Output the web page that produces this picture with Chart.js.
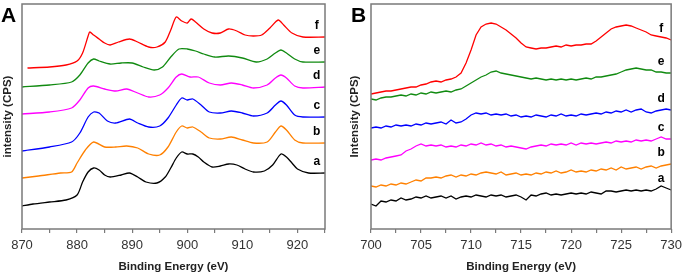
<!DOCTYPE html>
<html>
<head>
<meta charset="utf-8">
<script src="https://cdn.jsdelivr.net/npm/chart.js@4.4.0/dist/chart.umd.min.js"></script>
<style>
  html, body { margin: 0; padding: 0; background: #fff; }
  .panel { position: absolute; top: 0; height: 274px; }
  #panelA { left: 0; width: 342px; }
  #panelB { left: 342px; width: 345px; }
</style>
</head>
<body>
<div class="panel" id="panelA"><canvas id="chartA"></canvas></div>
<div class="panel" id="panelB"><canvas id="chartB"></canvas></div>
<script>
// Panel A: 870-925 eV, [energy, intensity]
const specA_a = [[870,23],[872,25],[875,27],[878,29],[880,34],[881,47],[882,57],[883,61],[884,59],[885,54],[886,52],[888,54],[889.5,56],[891,52],[892.5,47],[894.5,46],[896,52],[897,61],[898,71],[899,77],[900,75],[901,75],[902,72],[903,67],[904.5,62],[906,63],[907.5,65],[909,64],[910.5,60],[912,57],[914,58],[915.5,64],[917,75],[918,72],[919,66],[920,60],[922,56],[925,56]];
const specA_b = [[870,51],[873,53],[877,56],[879,57],[880,66],[881.5,79],[883,87],[885,82],[887,82],[889,83],[891,81],[893,75],[895,74],[896.5,82],[898,97],[899,103],[900,101],[901,102],[902.5,97],[904,91],[906,90],[908,92],[910,89],[912,86],[914.5,87],[916,97],[917,103],[918,99],[919.5,89],[921,86],[925,86]];
const specA_c = [[870,78],[875,82],[879,87],[880.5,96],[882,112],[883,117],[884,116],[885.5,108],[887,106],[889.5,110],[891,106],[893,102],[895,103],[896.5,111],[898,124],[899,131],[900,129],[901,130],[902.5,124],[904,117],[906,116],[908,118],[910,116],[912,113],[914.5,116],[916,124],[917,128],[918,124],[919.5,114],[921,112],[925,112]];
const specA_d = [[870,115],[875,117],[879,121],[880.5,129],[882,141],[883,143],[885,140],[887,138],[889,140],[891,136],[893,132],[895,134],[896.5,141],[898,152],[899,155],[900.5,152],[902,152],[904,146],[906,144],[908,146],[910,144],[912,141],[914.5,144],[916,151],[917,154],[918,151],[919.5,143],[921,141],[925,142]];
const specA_e = [[870,142],[875,144],[879,147],[880.5,154],[882,166],[883,170],[884,168],[886,165],[888,166],[890,166],[892,162],[894,159],[895.5,162],[897,172],[898.5,180],[900,180],[901.5,178],[903,175],[905,172],[907.5,173],[910,171],[912.5,167],[914.5,170],[916,176],[917,179],[918,176],[919.5,170],[921,167],[925,167]];
const specA_f = [[871,161],[875,162],[878,164],[880,168],[881,176],[882,193],[882.3,197],[883,194],[884,190],[885,186],[886,184],[887.5,187],[889.5,190],[891,187],[893,182],[894.5,182],[896,187],[897,199],[898,212],[899,208],[900,206],[900.7,210],[901.5,207],[903,200],[904.5,196],[906,196],[907.5,200],[909,198],[910.5,194],[912,193],[913.5,194],[915,201],[916.5,209],[917.5,204],[919,196],[921,192],[925,192]];

// Panel B: 700-730 eV, one value every 0.5 eV
const energyB = [700,700.5,701,701.5,702,702.5,703,703.5,704,704.5,705,705.5,706,706.5,707,707.5,708,708.5,709,709.5,710,710.5,711,711.5,712,712.5,713,713.5,714,714.5,715,715.5,716,716.5,717,717.5,718,718.5,719,719.5,720,720.5,721,721.5,722,722.5,723,723.5,724,724.5,725,725.5,726,726.5,727,727.5,728,728.5,729,729.5,730];
const specB_a = [25,23,28,27,29,28,31,29,30,32,31,33,31,32,33,31,33,30,32,33,32,34,33,32,34,33,34,32,33,34,32,29,34,33,35,36,34,35,34,35,36,35,36,35,37,36,35,38,38,37,38,39,38,39,38,39,38,40,43,41,39];
const specB_b = [43,42,44,43,45,44,46,45,47,49,48,51,51,52,51,53,54,52,54,53,55,54,56,57,56,55,57,54,55,56,54,55,54,56,55,57,56,58,56,57,59,57,58,57,59,58,60,59,61,59,62,60,61,62,60,62,63,61,63,64,65];
const specB_c = [69,70,69,71,72,73,74,78,80,83,85,83,84,83,84,82,83,82,84,83,85,84,86,84,85,83,84,82,83,82,81,80,82,83,84,83,85,84,85,84,86,84,86,85,86,85,86,87,86,88,87,88,87,89,88,89,88,90,92,90,90];
const specB_d = [101,102,101,103,102,104,103,104,103,105,104,106,105,106,107,105,109,106,107,110,114,116,115,116,114,115,114,115,113,114,112,113,112,114,113,112,114,113,115,113,114,113,115,114,115,116,115,117,116,118,117,119,117,119,120,117,116,118,119,120,119];
const specB_e = [130,129,131,132,132,133,134,133,135,134,136,135,137,136,137,138,137,139,140,143,146,149,152,154,157,158,156,155,154,153,152,151,150,151,150,149,150,149,150,149,150,149,150,151,150,152,152,153,154,155,157,159,160,161,160,159,159,157,157,156,156];
const specB_f = [135,136,137,138,138,139,140,141,142,142,144,145,147,148,147,149,150,152,156,166,179,194,202,205,206,205,202,199,195,191,186,182,181,180,181,181,182,183,182,184,183,184,184,185,185,188,192,196,200,202,203,204,203,201,199,197,194,193,192,191,189];

const sampleNames = ['a', 'b', 'c', 'd', 'e', 'f'];
// in panel A sample c is blue and d magenta, in panel B the other way round
const colorsA = ['#000000', '#ff8000', '#0000ff', '#ff00ff', '#108a10', '#ff0000'];
const colorsB = ['#000000', '#ff8000', '#ff00ff', '#0000ff', '#108a10', '#ff0000'];
const ticksA = [870, 880, 890, 900, 910, 920];
const ticksB = [700, 705, 710, 715, 720, 725, 730];

function pairs(arr) { return arr.map(p => ({ x: p[0], y: p[1] })); }
function zipB(vals) { return vals.map((v, i) => ({ x: energyB[i], y: v })); }

// frame, panel letter and a-f labels
const decorPlugin = {
  id: 'decor',
  afterDraw(chart, args, opts) {
    const ctx = chart.ctx, ca = chart.chartArea;
    ctx.save();
    ctx.strokeStyle = '#7a7a7a';
    ctx.lineWidth = 1.5;
    ctx.strokeRect(ca.left, ca.top, ca.right - ca.left, ca.bottom - ca.top);
    ctx.fillStyle = '#000';
    ctx.font = 'bold 21px "Liberation Sans", Arial, sans-serif';
    ctx.textAlign = 'left';
    ctx.textBaseline = 'alphabetic';
    ctx.fillText(opts.letter, opts.letterX, 22);
    ctx.font = 'bold 12px "Liberation Sans", Arial, sans-serif';
    ctx.textAlign = 'center';
    const xs = chart.scales.x, ys = chart.scales.y;
    chart.data.datasets.forEach(ds => {
      const last = ds.data[ds.data.length - 1];
      ctx.fillText(ds.label, xs.getPixelForValue(opts.labelE), ys.getPixelForValue(last.y) - 8);
    });
    ctx.restore();
  }
};

function makeChart(id, datasets, xmin, xmax, step, labelled, yTitle, leftW, rightPad, titlePad, letter, letterX, labelE) {
  return new Chart(document.getElementById(id), {
    type: 'line',
    data: { datasets: datasets },
    options: {
      responsive: true,
      maintainAspectRatio: false,
      animation: false,
      layout: { padding: { top: 4, right: rightPad, bottom: 0, left: 0 } },
      elements: { point: { radius: 0 }, line: { borderWidth: 1.3, tension: 0.25 } },
      plugins: {
        legend: { display: false },
        tooltip: { enabled: false },
        decor: { letter: letter, letterX: letterX, labelE: labelE }
      },
      scales: {
        x: {
          type: 'linear',
          min: xmin,
          max: xmax,
          afterBuildTicks(s) {
            const t = [];
            for (let v = xmin; v <= xmax + 1e-6; v += step) t.push({ value: v });
            s.ticks = t;
          },
          afterFit(s) { s.height = 45; },
          ticks: {
            autoSkip: false,
            maxRotation: 0,
            padding: 5,
            color: '#333',
            font: { family: '"Liberation Sans", Arial, sans-serif', size: 13 },
            callback: v => labelled.includes(v) ? String(v) : ''
          },
          grid: { drawOnChartArea: false, tickLength: 4, color: '#7a7a7a', lineWidth: 1.2 },
          border: { display: false },
          title: {
            display: true,
            text: 'Binding Energy (eV)',
            color: '#222',
            font: { family: '"Liberation Sans", Arial, sans-serif', size: 11.5, weight: 'bold' },
            padding: { top: 0, bottom: 0 }
          }
        },
        y: {
          min: 0,
          max: 225,
          afterFit(s) { s.width = leftW; },
          ticks: { display: false },
          grid: { display: false },
          border: { display: false },
          title: {
            display: true,
            text: yTitle,
            color: '#222',
            font: { family: '"Liberation Sans", Arial, sans-serif', size: 11.5, weight: 'bold' },
            padding: { top: titlePad, bottom: 0 }
          }
        }
      }
    },
    plugins: [decorPlugin]
  });
}

const seriesA = [specA_a, specA_b, specA_c, specA_d, specA_e, specA_f];
const seriesB = [specB_a, specB_b, specB_c, specB_d, specB_e, specB_f];

makeChart('chartA', seriesA.map((s, i) => ({
  label: sampleNames[i], data: pairs(s), borderColor: colorsA[i]
})), 870, 925, 5, ticksA, 'intensity (CPS)', 22, 17, 1, 'A', 1, 923.5);

makeChart('chartB', seriesB.map((s, i) => ({
  label: sampleNames[i], data: zipB(s), borderColor: colorsB[i], tension: 0
})), 700, 730, 2.5, ticksB, 'Intensity (CPS)', 29, 12, 6, 'B', 9, 729);
</script>
</body>
</html>
